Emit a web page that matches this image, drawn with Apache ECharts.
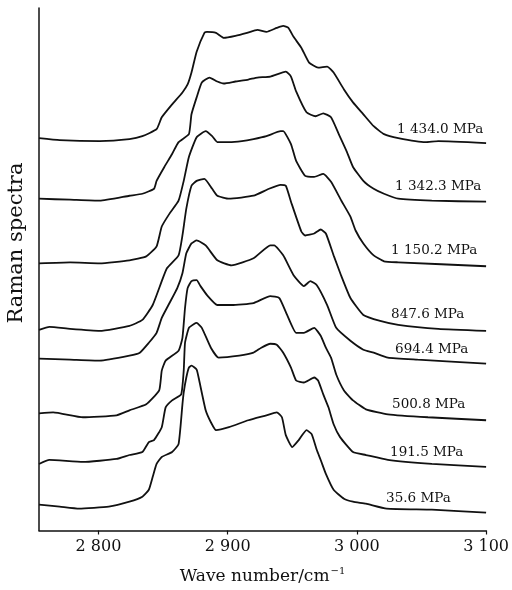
<!DOCTYPE html>
<html>
<head>
<meta charset="utf-8">
<script src="https://cdn.jsdelivr.net/npm/echarts@6/dist/echarts.min.js"></script>
<style>
  html, body { margin: 0; padding: 0; background: #fff; }
  #chart { width: 512px; height: 590px; }
</style>
</head>
<body>
<div id="chart"></div>
<script>
// pressure labels, top curve first
const pressures = ['1 434.0 MPa', '1 342.3 MPa', '1 150.2 MPa', '847.6 MPa', '694.4 MPa', '500.8 MPa', '191.5 MPa', '35.6 MPa'];

// [wave number, intensity (stacked, arbitrary units)]
const spec1434 = [[2754,395],[2770,393],[2801,392],[2824,394],[2834,397],[2845,404],[2849,416],[2857,429],[2865,441],[2869,449],[2872,461],[2876,482],[2882,501],[2884,502],[2891,501],[2897,496],[2906,498],[2915,501],[2923,504],[2930,502],[2938,506],[2943,508],[2947,506],[2951,497],[2957,486],[2963,471],[2970,466],[2977,467],[2982,461],[2990,444],[2997,431],[3005,419],[3013,407],[3021,399],[3032,395],[3053,391],[3063,392],[3100,390]];
const spec1342 = [[2754,334],[2778,333],[2801,332],[2824,337],[2834,339],[2843,344],[2845,352],[2851,366],[2857,379],[2862,391],[2870,399],[2872,419],[2876,436],[2880,451],[2886,456],[2892,452],[2897,450],[2906,452],[2916,454],[2923,456],[2933,457],[2945,462],[2949,457],[2953,442],[2961,421],[2968,417],[2974,420],[2980,416],[2986,399],[2992,382],[2997,366],[3005,352],[3013,344],[3021,339],[3032,334],[3058,332],[3100,331]];
const spec1150 = [[2754,269],[2778,270],[2801,269],[2824,272],[2837,276],[2845,286],[2849,306],[2855,319],[2862,332],[2866,352],[2870,376],[2876,396],[2883,402],[2888,397],[2892,391],[2901,391],[2911,392],[2920,394],[2930,397],[2941,402],[2943,402],[2949,389],[2953,372],[2960,357],[2967,356],[2974,359],[2980,351],[2988,332],[2995,316],[2999,302],[3005,289],[3013,277],[3021,271],[3032,270],[3100,266]];
const spec848 = [[2754,202],[2762,205],[2778,203],[2801,201],[2824,206],[2834,212],[2842,227],[2849,251],[2853,264],[2862,277],[2865,297],[2868,324],[2872,347],[2876,352],[2882,354],[2888,344],[2892,337],[2901,334],[2920,337],[2932,344],[2941,348],[2945,347],[2949,331],[2957,301],[2960,297],[2967,299],[2972,303],[2976,299],[2982,277],[2988,256],[2995,234],[3005,217],[3018,211],[3032,207],[3063,203],[3100,201]];
const spec694 = [[2754,173],[2778,172],[2801,171],[2824,176],[2832,179],[2839,189],[2845,199],[2849,214],[2855,229],[2861,244],[2865,259],[2868,279],[2872,289],[2876,292],[2883,287],[2892,272],[2903,267],[2920,274],[2933,287],[2936,287],[2943,277],[2951,257],[2959,246],[2964,251],[2969,247],[2977,227],[2984,204],[2995,191],[3005,182],[3013,179],[3024,174],[3047,172],[3100,168]];
const spec501 = [[2754,118],[2765,119],[2788,114],[2814,116],[2824,121],[2837,127],[2847,141],[2849,161],[2852,171],[2862,181],[2865,194],[2867,224],[2869,244],[2872,251],[2876,252],[2879,246],[2884,237],[2892,227],[2903,227],[2920,229],[2933,236],[2940,234],[2946,217],[2953,199],[2959,199],[2967,204],[2972,196],[2976,184],[2980,174],[2984,157],[2990,141],[2997,131],[3007,122],[3024,117],[3055,114],[3100,111]];
const spec192 = [[2754,67],[2762,71],[2788,69],[2814,72],[2824,76],[2834,79],[2839,89],[2843,91],[2849,104],[2852,124],[2857,131],[2864,137],[2866,161],[2867,189],[2870,204],[2874,208],[2876,209],[2880,204],[2887,184],[2893,174],[2909,176],[2920,179],[2926,184],[2933,188],[2938,187],[2943,179],[2949,164],[2953,151],[2959,149],[2967,154],[2970,151],[2974,137],[2978,124],[2982,107],[2987,94],[2997,79],[3007,76],[3024,71],[3058,67],[3100,64]];
const spec36 = [[2754,26],[2770,24],[2785,22],[2808,24],[2824,29],[2834,34],[2839,41],[2842,54],[2845,67],[2849,74],[2857,79],[2862,87],[2865,127],[2866,139],[2868,154],[2870,164],[2872,166],[2876,162],[2878,151],[2883,121],[2887,109],[2891,101],[2901,104],[2916,111],[2930,116],[2938,119],[2942,114],[2945,96],[2950,84],[2955,91],[2961,101],[2965,97],[2969,81],[2972,71],[2976,57],[2982,41],[2990,32],[2997,29],[3007,27],[3023,22],[3058,21],[3100,18]];

const spectra = [spec1434, spec1342, spec1150, spec848, spec694, spec501, spec192, spec36];
const xTicks = [2800, 2900, 3000, 3100];

// label placement relative to the right end of each curve (px)
const labelOffsets = [[-89, -14], [-91, -15], [-95, -16], [-95, -16], [-91, -14], [-94, -16], [-96, -14], [-100, -14]];

const serif = '"DejaVu Serif", "Liberation Serif", serif';
const fmt = v => String(v).replace(/(\d)(?=(\d{3})+$)/, '$1 ');

const chart = echarts.init(document.getElementById('chart'));

chart.setOption({
  animation: false,
  backgroundColor: '#fff',
  grid: { left: 39, right: 24, top: 8, bottom: 56 },
  xAxis: {
    type: 'value',
    min: 2754,
    max: 3100,
    name: '{a|Wave number/cm}{b|−1}',
    nameLocation: 'middle',
    nameGap: 36,
    nameTextStyle: {
      rich: {
        a: { fontFamily: serif, fontSize: 17, color: '#111' },
        b: { fontFamily: serif, fontSize: 10, color: '#111', padding: [0, 0, 10, 1] }
      }
    },
    axisLine: { lineStyle: { color: '#111', width: 1.5 } },
    axisTick: { customValues: xTicks, length: 4, inside: false, lineStyle: { color: '#111', width: 1.2 } },
    axisLabel: {
      customValues: xTicks,
      formatter: fmt,
      fontFamily: serif,
      fontSize: 16,
      color: '#111',
      margin: 8
    },
    splitLine: { show: false }
  },
  yAxis: {
    type: 'value',
    min: 0,
    max: 526,
    axisLine: { show: true, lineStyle: { color: '#111', width: 1.5 } },
    axisTick: { show: false },
    axisLabel: { show: false },
    splitLine: { show: false }
  },
  graphic: [
    {
      type: 'text',
      x: 17,
      y: 243,
      rotation: Math.PI / 2,
      style: {
        text: 'Raman spectra',
        font: '21px ' + serif,
        fill: '#111',
        align: 'center',
        verticalAlign: 'middle'
      }
    }
  ],
  series: spectra.map((data, i) => ({
    name: pressures[i],
    type: 'line',
    data: data,
    showSymbol: false,
    symbol: 'none',
    smooth: 0.15,
    lineStyle: { color: '#111', width: 1.8 },
    endLabel: {
      show: true,
      formatter: pressures[i],
      fontFamily: serif,
      fontSize: 13.5,
      color: '#111',
      align: 'left',
      verticalAlign: 'middle',
      distance: 0,
      offset: labelOffsets[i]
    }
  }))
});
</script>
</body>
</html>
